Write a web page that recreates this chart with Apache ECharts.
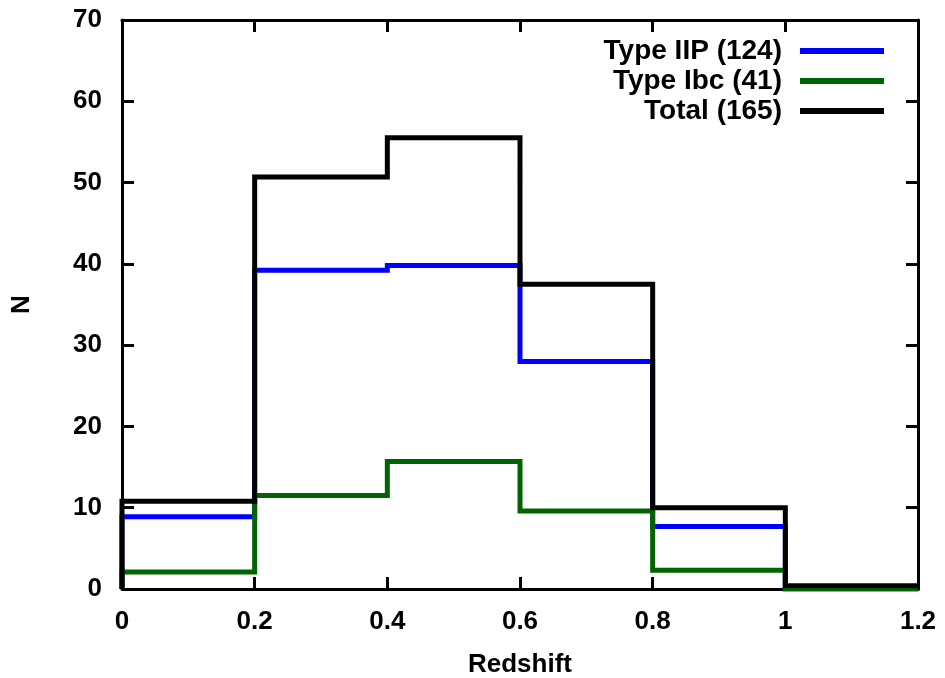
<!DOCTYPE html>
<html><head><meta charset="utf-8">
<script src="https://cdn.jsdelivr.net/npm/echarts@6/dist/echarts.min.js"></script>
<style>html,body{margin:0;padding:0;background:#fff}#c{width:945px;height:678px}</style>
</head><body><div id="c"></div>
<script>
const binEdges = [0, 0.2, 0.4, 0.6, 0.8, 1.0, 1.2];
const typeIIP = [8.9, 39.2, 39.8, 28.0, 7.7, 0];
const typeIbc = [2.1, 11.5, 15.7, 9.6, 2.3, 0];
const total   = [10.8, 50.7, 55.5, 37.5, 10.0, 0.4];
const seriesNames = ['Type IIP (124)', 'Type Ibc (41)', 'Total (165)'];
const seriesColors = ['#0000ff', '#006400', '#000000'];

function stepData(vals){
  const d = [[binEdges[0], 0]];
  for (let i = 0; i < vals.length; i++) d.push([binEdges[i], vals[i]]);
  d.push([binEdges[binEdges.length-1], vals[vals.length-1]]);
  return d;
}
const font = {fontFamily: 'Liberation Sans, Arial, sans-serif', fontWeight: 'bold', fontSize: 26, color: '#000'};
const legendFont = Object.assign({}, font, {fontSize: 28});
const fmt = v => String(Math.round(v*10)/10);
const axisLine = {show: true, onZero: false, lineStyle: {color: '#000', width: 3}};
const tick = {show: true, inside: true, length: 12, lineStyle: {color: '#000', width: 3}};
const chart = echarts.init(document.getElementById('c'));
const vals = [typeIIP, typeIbc, total];
chart.setOption({
  animation: false,
  grid: {left: 122, right: 27, top: 20, bottom: 89, containLabel: false, outerBoundsMode: 'none'},
  xAxis: [
    {type: 'value', min: 0, max: 1.2, interval: 0.2, position: 'bottom',
     name: 'Redshift', nameLocation: 'middle', nameGap: 63, nameTextStyle: font,
     axisLine, axisTick: tick, splitLine: {show: false},
     axisLabel: Object.assign({margin: 20, formatter: fmt}, font)},
    {type: 'value', min: 0, max: 1.2, interval: 0.2, position: 'top',
     axisLine, axisTick: tick, splitLine: {show: false}, axisLabel: {show: false}}
  ],
  yAxis: [
    {type: 'value', min: 0, max: 70, interval: 10, position: 'left',
     name: 'N', nameLocation: 'middle', nameGap: 87, nameRotate: 90, nameTextStyle: font,
     axisLine, axisTick: tick, splitLine: {show: false},
     axisLabel: Object.assign({margin: 20}, font)},
    {type: 'value', min: 0, max: 70, interval: 10, position: 'right',
     axisLine, axisTick: tick, splitLine: {show: false}, axisLabel: {show: false}}
  ],
  legend: seriesNames.map((n, i) => ({
    data: [n], right: 56, top: 32 + i*30, align: 'right', orient: 'vertical',
    icon: 'rect', itemWidth: 84, itemHeight: 6, selectedMode: false,
    textStyle: Object.assign({padding: [0, 13, 0, 0]}, legendFont)
  })),
  series: seriesNames.map((n, i) => ({
    name: n, type: 'line', step: 'end', showSymbol: false, symbol: 'none',
    data: stepData(vals[i]), color: seriesColors[i],
    lineStyle: {color: seriesColors[i], width: 5, join: 'miter'}
  }))
});
</script></body></html>
